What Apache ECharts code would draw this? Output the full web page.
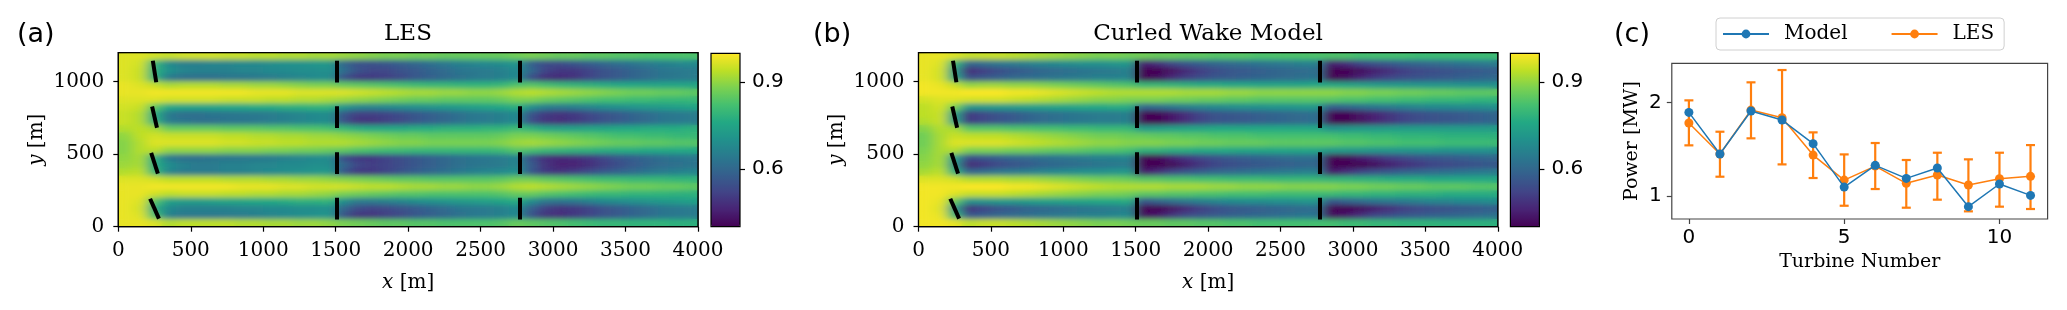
<!DOCTYPE html>
<html><head><meta charset="utf-8">
<script src="https://cdn.jsdelivr.net/npm/echarts@6/dist/echarts.min.js"></script>
<style>
html,body{margin:0;padding:0;background:#fff}
.layer{position:absolute;left:0;top:0;width:2067px;height:310px}
#smooth{filter:url(#soft);clip-path:path('M118.3 52.7 H698 V226.7 H118.3 Z M918.5 52.7 H1497.8 V226.7 H918.5 Z')}
#marks{pointer-events:none}
</style>
</head><body>
<svg width="0" height="0" style="position:absolute"><filter id="soft" x="-2%" y="-10%" width="104%" height="120%"><feGaussianBlur stdDeviation="5.5 2.4"/></filter></svg>
<div id="base" class="layer"></div>
<div id="smooth" class="layer"></div>
<div id="marks" class="layer"></div>
<script>
// ---------- DATA ----------
// heat-map cell centres (m): 40 columns x 24 rows
const xCenters = [50,150,250,350,450,550,650,750,850,950,1050,1150,1250,1350,1450,1550,1650,1750,1850,1950,2050,2150,2250,2350,2450,2550,2650,2750,2850,2950,3050,3150,3250,3350,3450,3550,3650,3750,3850,3950];
const yCenters = [25,75,125,175,225,275,325,375,425,475,525,575,625,675,725,775,825,875,925,975,1025,1075,1125,1175];
const xTicks = [0,500,1000,1500,2000,2500,3000,3500,4000];
const yTicks = [0,500,1000];
const cbarTicks = [0.6,0.9];

// normalised streamwise velocity (a) LES, rows listed top (y=1175) to bottom (y=25)
const lesField = [
[.97,.97,.96,.95,.96,.96,.96,.95,.95,.94,.94,.93,.93,.92,.92,.91,.90,.89,.88,.88,.87,.87,.86,.86,.86,.86,.86,.87,.88,.87,.86,.86,.85,.85,.84,.84,.83,.83,.83,.83],
[.97,.96,.80,.68,.66,.66,.67,.67,.68,.68,.69,.70,.70,.71,.72,.60,.55,.55,.56,.58,.60,.62,.64,.66,.67,.68,.69,.71,.58,.54,.54,.56,.58,.60,.62,.63,.65,.66,.67,.68],
[.97,.95,.78,.70,.67,.66,.66,.66,.67,.67,.68,.68,.69,.69,.70,.62,.55,.53,.53,.55,.57,.59,.61,.63,.64,.65,.66,.68,.60,.52,.50,.50,.52,.55,.57,.59,.61,.63,.64,.65],
[.97,.95,.78,.64,.62,.62,.62,.63,.63,.64,.65,.66,.67,.68,.69,.55,.50,.50,.51,.53,.56,.58,.60,.62,.64,.65,.66,.68,.54,.48,.47,.49,.52,.55,.57,.59,.61,.63,.64,.65],
[.98,.97,.95,.92,.93,.93,.93,.92,.92,.91,.91,.90,.89,.88,.88,.86,.85,.84,.83,.82,.81,.80,.80,.79,.79,.79,.80,.83,.84,.82,.80,.79,.78,.77,.76,.76,.75,.75,.75,.75],
[.98,.98,.99,.99,.99,.99,.99,.99,.99,.98,.98,.98,.97,.97,.97,.97,.96,.95,.94,.93,.92,.92,.91,.91,.90,.90,.91,.93,.94,.93,.92,.91,.90,.89,.88,.87,.87,.86,.86,.85],
[.97,.97,.97,.96,.96,.96,.96,.95,.95,.95,.94,.94,.93,.93,.92,.91,.90,.89,.88,.87,.86,.86,.85,.85,.85,.85,.86,.88,.88,.86,.85,.84,.83,.82,.82,.81,.81,.80,.80,.80],
[.96,.95,.85,.76,.75,.75,.75,.76,.76,.77,.77,.78,.78,.79,.79,.72,.68,.67,.68,.69,.70,.71,.72,.73,.74,.75,.76,.78,.70,.66,.65,.66,.67,.69,.70,.71,.72,.73,.74,.75],
[.95,.93,.77,.64,.62,.62,.63,.63,.64,.64,.65,.66,.67,.68,.69,.56,.51,.51,.52,.54,.56,.58,.60,.62,.64,.65,.66,.68,.55,.50,.49,.50,.53,.55,.57,.59,.61,.63,.64,.65],
[.95,.93,.78,.65,.63,.62,.62,.63,.63,.64,.65,.66,.67,.68,.69,.55,.49,.49,.51,.53,.56,.58,.60,.62,.64,.65,.66,.68,.54,.49,.48,.50,.52,.55,.57,.59,.61,.63,.64,.65],
[.93,.94,.92,.86,.86,.86,.86,.85,.85,.85,.84,.84,.83,.83,.82,.80,.77,.76,.76,.76,.77,.77,.78,.78,.78,.79,.79,.81,.78,.75,.74,.74,.75,.75,.76,.76,.77,.77,.77,.78],
[.90,.94,.96,.95,.95,.95,.95,.94,.94,.93,.93,.92,.92,.91,.91,.90,.89,.88,.87,.86,.86,.85,.85,.85,.85,.85,.86,.88,.88,.87,.86,.85,.84,.83,.82,.82,.81,.81,.80,.80],
[.89,.93,.97,.97,.97,.97,.97,.96,.96,.95,.95,.94,.94,.93,.93,.93,.92,.91,.90,.89,.89,.88,.88,.88,.88,.88,.89,.91,.92,.91,.90,.89,.88,.87,.86,.86,.85,.85,.84,.84],
[.89,.93,.94,.90,.90,.90,.90,.89,.89,.89,.88,.88,.87,.87,.86,.85,.83,.82,.81,.81,.80,.80,.80,.80,.80,.80,.81,.84,.82,.80,.79,.78,.78,.77,.77,.77,.76,.76,.76,.76],
[.90,.92,.78,.64,.62,.62,.63,.63,.64,.64,.65,.66,.67,.68,.69,.54,.50,.50,.52,.54,.56,.58,.60,.62,.63,.64,.65,.67,.54,.48,.47,.48,.50,.53,.56,.58,.60,.62,.63,.64],
[.91,.92,.77,.69,.66,.65,.65,.66,.66,.67,.67,.68,.68,.69,.69,.60,.53,.51,.52,.54,.56,.58,.60,.62,.63,.64,.65,.67,.57,.49,.46,.46,.48,.51,.54,.57,.59,.61,.62,.63],
[.93,.94,.80,.67,.65,.65,.65,.66,.66,.67,.68,.69,.70,.71,.72,.56,.50,.50,.52,.55,.58,.60,.62,.64,.66,.67,.68,.70,.56,.50,.49,.51,.54,.57,.59,.61,.63,.65,.66,.67],
[.97,.97,.96,.94,.94,.94,.94,.93,.93,.93,.92,.92,.91,.91,.90,.89,.88,.87,.86,.85,.85,.84,.84,.84,.84,.84,.85,.87,.87,.85,.84,.83,.82,.81,.81,.80,.80,.80,.79,.79],
[.98,.98,.99,.99,.99,.99,.99,.99,.98,.98,.98,.97,.97,.96,.96,.96,.95,.94,.94,.93,.92,.92,.91,.91,.90,.90,.91,.93,.94,.93,.92,.91,.90,.89,.88,.87,.87,.86,.86,.85],
[.98,.98,.96,.94,.95,.95,.95,.94,.94,.93,.93,.92,.92,.91,.90,.88,.87,.86,.85,.84,.84,.83,.83,.83,.83,.83,.84,.86,.86,.84,.83,.82,.81,.80,.80,.79,.79,.79,.78,.78],
[.98,.97,.84,.74,.73,.73,.74,.75,.75,.76,.76,.77,.78,.78,.79,.70,.65,.65,.66,.67,.69,.70,.71,.72,.73,.74,.75,.77,.69,.64,.63,.64,.66,.68,.69,.70,.71,.72,.73,.74],
[.98,.96,.77,.68,.66,.66,.66,.66,.67,.67,.68,.68,.69,.69,.70,.60,.54,.52,.53,.55,.57,.59,.61,.63,.64,.65,.66,.68,.58,.51,.49,.50,.52,.55,.57,.59,.61,.63,.64,.65],
[.98,.97,.82,.66,.64,.64,.64,.65,.65,.66,.67,.68,.69,.70,.71,.55,.49,.49,.51,.53,.56,.58,.60,.62,.64,.65,.66,.68,.55,.49,.48,.50,.52,.55,.57,.59,.61,.63,.64,.65],
[.98,.98,.97,.93,.94,.94,.94,.94,.93,.93,.92,.92,.91,.91,.90,.88,.87,.86,.85,.85,.84,.84,.83,.83,.83,.83,.84,.86,.85,.84,.83,.82,.81,.80,.80,.79,.79,.79,.78,.78]
];

// normalised streamwise velocity (b) Curled Wake Model, rows top to bottom
const cwmField = [
[.98,.98,.97,.95,.95,.95,.94,.93,.92,.91,.90,.89,.88,.88,.87,.87,.86,.86,.85,.85,.84,.84,.84,.83,.83,.83,.83,.83,.83,.83,.82,.82,.82,.82,.81,.81,.81,.81,.81,.81],
[.98,.97,.80,.60,.62,.64,.65,.66,.67,.68,.69,.70,.70,.71,.72,.45,.48,.53,.56,.58,.60,.61,.62,.63,.64,.65,.66,.66,.45,.48,.52,.55,.57,.59,.60,.61,.62,.63,.64,.65],
[.98,.96,.72,.48,.51,.54,.56,.58,.60,.61,.62,.63,.64,.65,.66,.40,.40,.43,.47,.51,.54,.56,.57,.58,.59,.60,.61,.62,.40,.40,.42,.45,.48,.51,.53,.54,.55,.56,.57,.58],
[.98,.96,.75,.54,.56,.58,.60,.61,.62,.63,.64,.65,.66,.66,.67,.40,.42,.47,.51,.54,.56,.57,.58,.59,.60,.61,.62,.63,.40,.42,.46,.50,.52,.54,.55,.56,.57,.58,.59,.60],
[.99,.98,.95,.90,.91,.91,.90,.90,.89,.88,.87,.86,.85,.84,.83,.80,.80,.79,.78,.77,.77,.76,.76,.75,.75,.75,.75,.76,.76,.75,.74,.73,.72,.72,.71,.71,.71,.70,.70,.70],
[.99,.99,.99,1.0,1.0,1.0,.99,.99,.98,.97,.96,.95,.94,.93,.93,.93,.93,.93,.92,.92,.92,.91,.91,.90,.90,.90,.90,.90,.90,.89,.89,.88,.88,.87,.87,.86,.86,.85,.85,.85],
[.96,.97,.97,.96,.96,.96,.95,.94,.93,.92,.91,.90,.89,.89,.88,.88,.88,.87,.87,.86,.86,.85,.85,.84,.84,.84,.84,.84,.84,.83,.83,.82,.82,.81,.81,.80,.80,.80,.79,.79],
[.94,.96,.88,.72,.72,.73,.73,.74,.74,.75,.75,.76,.76,.77,.77,.60,.62,.64,.66,.67,.68,.69,.70,.70,.71,.71,.72,.72,.58,.60,.62,.64,.65,.66,.67,.68,.68,.69,.69,.70],
[.94,.95,.74,.50,.53,.55,.57,.59,.61,.62,.63,.64,.65,.65,.66,.40,.40,.44,.48,.52,.55,.56,.57,.58,.59,.60,.61,.62,.40,.40,.43,.46,.49,.52,.54,.55,.56,.57,.58,.59],
[.93,.95,.74,.50,.53,.55,.57,.59,.61,.62,.63,.64,.65,.65,.66,.40,.40,.44,.48,.52,.55,.56,.57,.58,.59,.60,.61,.62,.40,.40,.43,.46,.49,.52,.54,.55,.56,.57,.58,.59],
[.89,.93,.92,.84,.84,.84,.83,.83,.82,.82,.81,.81,.80,.80,.80,.72,.73,.74,.75,.75,.76,.76,.76,.76,.76,.76,.76,.76,.70,.71,.72,.72,.73,.73,.73,.73,.73,.73,.73,.73],
[.87,.92,.95,.94,.94,.94,.93,.92,.91,.90,.89,.88,.87,.87,.86,.86,.85,.85,.84,.84,.83,.83,.83,.82,.82,.82,.82,.82,.82,.81,.81,.80,.80,.79,.79,.79,.78,.78,.78,.78],
[.87,.92,.97,.97,.97,.97,.96,.95,.94,.93,.92,.91,.90,.90,.89,.89,.89,.88,.88,.87,.87,.86,.86,.86,.85,.85,.85,.85,.85,.84,.84,.83,.83,.82,.82,.82,.81,.81,.81,.81],
[.88,.92,.93,.88,.88,.88,.87,.87,.86,.85,.85,.84,.83,.83,.82,.78,.78,.77,.77,.76,.76,.76,.75,.75,.75,.75,.75,.75,.72,.72,.72,.71,.71,.71,.71,.71,.70,.70,.70,.70],
[.89,.92,.74,.54,.56,.58,.60,.61,.62,.63,.64,.65,.66,.66,.67,.40,.41,.46,.50,.53,.55,.57,.58,.59,.60,.61,.62,.62,.40,.41,.45,.48,.51,.53,.55,.56,.57,.58,.59,.60],
[.90,.92,.70,.47,.50,.53,.55,.57,.59,.60,.61,.62,.63,.64,.65,.40,.40,.41,.45,.49,.52,.54,.55,.56,.57,.58,.59,.60,.40,.40,.40,.42,.45,.48,.50,.52,.53,.54,.55,.56],
[.92,.94,.78,.60,.62,.64,.65,.66,.67,.68,.69,.70,.70,.71,.72,.44,.48,.53,.56,.58,.60,.61,.62,.63,.64,.65,.66,.66,.44,.48,.52,.55,.57,.59,.60,.61,.62,.63,.64,.65],
[.97,.97,.96,.93,.93,.93,.92,.92,.91,.90,.89,.88,.87,.87,.86,.84,.84,.83,.83,.82,.82,.81,.81,.81,.80,.80,.80,.80,.79,.79,.78,.78,.77,.77,.77,.76,.76,.76,.76,.76],
[.99,.99,.99,1.0,1.0,1.0,.99,.99,.98,.97,.96,.95,.94,.93,.93,.93,.93,.92,.92,.92,.91,.91,.90,.90,.90,.89,.89,.89,.89,.88,.88,.87,.87,.86,.86,.85,.85,.85,.84,.84],
[.99,.99,.97,.95,.95,.95,.94,.93,.92,.91,.90,.89,.88,.88,.87,.85,.85,.84,.84,.83,.83,.82,.82,.82,.81,.81,.81,.81,.81,.80,.80,.79,.79,.78,.78,.78,.77,.77,.77,.77],
[.99,.98,.86,.70,.71,.72,.72,.73,.74,.74,.75,.75,.76,.76,.77,.56,.59,.62,.64,.66,.67,.68,.69,.69,.70,.70,.71,.71,.56,.59,.61,.63,.64,.65,.66,.67,.67,.68,.68,.69],
[.99,.97,.72,.49,.52,.55,.57,.59,.60,.61,.62,.63,.64,.65,.66,.40,.40,.43,.47,.51,.54,.56,.57,.58,.59,.60,.61,.62,.40,.40,.42,.45,.48,.51,.53,.54,.55,.56,.57,.58],
[.99,.98,.80,.56,.58,.60,.61,.62,.63,.64,.65,.66,.66,.67,.68,.42,.44,.49,.53,.55,.57,.58,.59,.60,.61,.62,.63,.63,.42,.44,.48,.52,.54,.56,.57,.58,.59,.60,.61,.62],
[.99,.99,.98,.94,.95,.95,.94,.93,.92,.91,.90,.89,.88,.88,.87,.86,.86,.85,.85,.84,.84,.83,.83,.82,.82,.82,.82,.82,.82,.81,.81,.80,.80,.79,.79,.79,.78,.78,.78,.78]
];

// turbine layout (m) and yaw of the first column (deg), rows bottom to top
const turbineX = [250, 1510, 2770];
const turbineY = [124, 438, 756, 1070];
const yawFirstColumn = [24, 18, 13, 9];
const rotorD = 150;

// panel (c): power per turbine (MW)
const turbineNumber = [0,1,2,3,4,5,6,7,8,9,10,11];
const modelPower = [1.896,1.45,1.911,1.814,1.561,1.096,1.329,1.189,1.30,0.886,1.129,1.007];
const lesPower   = [1.782,1.45,1.921,1.839,1.439,1.171,1.321,1.136,1.225,1.118,1.186,1.211];
const lesLow     = [1.543,1.207,1.618,1.339,1.193,0.896,1.075,0.875,0.961,0.836,0.886,0.861];
const lesHigh    = [2.025,1.689,2.218,2.35,1.682,1.446,1.568,1.386,1.464,1.393,1.464,1.546];
const powerTicks = [1,2];
const turbineTicks = [0,5,10];

// ---------- BUILD ----------
function fieldData(rows){
  const out = [];
  rows.forEach((row, r) => {
    if (row.length !== xCenters.length) throw new Error('row ' + r + ' has ' + row.length);
    const j = rows.length - 1 - r;
    row.forEach((v, i) => out.push([i, j, v]));
  });
  return out;
}
function turbineLines(){
  const out = [];
  turbineX.forEach((x, c) => {
    turbineY.forEach((y, r) => {
      const g = (c === 0 ? yawFirstColumn[r] : 0) * Math.PI / 180;
      const h = rotorD / 2;
      out.push({coords: [[x - h*Math.sin(g), y + h*Math.cos(g)], [x + h*Math.sin(g), y - h*Math.cos(g)]]});
    });
  });
  return out;
}

const SERIF = 'DejaVu Serif', SANS = 'DejaVu Sans';
const VIRIDIS = ['#440154','#482475','#414487','#355f8d','#2a788e','#21918c','#22a884','#44bf70','#7ad151','#bddf26','#fde725'];
const BLUE = '#1f77b4', ORANGE = '#ff7f0e';

const PA = {left:118.3, top:52.7, width:579.7, height:174};
const PB = {left:918.5, top:52.7, width:579.3, height:174};
const CA = {left:711, top:53.3, width:29, height:173.4};
const CB = {left:1510.4, top:53.3, width:29, height:173.4};
const PC = {left:1671.8, top:63.3, width:375.8, height:155.7};

const frame = (r, color) => Object.assign({show:true, z:5, backgroundColor:'transparent', borderColor:color, borderWidth:1.2}, r);
const hidden = (r) => Object.assign({show:false}, r);
const plain = (v) => String(v);
const noLine = {show:false, onZero:false};

const serifLbl = {fontFamily:SERIF, fontSize:20, color:'#000'};
const italicName = (v) => ({
  name:'{i|' + v + '} [m]', nameLocation:'middle',
  nameTextStyle:{fontFamily:SERIF, fontSize:20, color:'#000', rich:{i:{fontFamily:SERIF, fontStyle:'italic', fontSize:20, color:'#000'}}}
});
const catAxis = (gi, data) => ({type:'category', gridIndex:gi, data:data, show:false, boundaryGap:true, axisLine:noLine});
const fieldX = (gi) => Object.assign({
  type:'value', gridIndex:gi, min:0, max:4000,
  axisLine:noLine, splitLine:{show:false},
  axisTick:{show:true, length:5, customValues:xTicks, lineStyle:{color:'#000', width:1.2}},
  axisLabel:{...serifLbl, margin:14, customValues:xTicks, formatter:plain},
  nameGap:46
}, italicName('x'));
const fieldY = (gi) => Object.assign({
  type:'value', gridIndex:gi, min:0, max:1200,
  axisLine:noLine, splitLine:{show:false},
  axisTick:{show:true, length:5, customValues:yTicks, lineStyle:{color:'#000', width:1.2}},
  axisLabel:{...serifLbl, margin:14, customValues:yTicks, formatter:plain},
  nameGap:72
}, italicName('y'));
const cbarY = (gi) => ({
  type:'value', gridIndex:gi, position:'right', min:0.4, max:1.0,
  axisLine:noLine, splitLine:{show:false},
  axisTick:{show:true, length:5, customValues:cbarTicks, lineStyle:{color:'#000', width:1.2}},
  axisLabel:{fontFamily:SANS, fontSize:20, color:'#000', margin:12, customValues:cbarTicks, formatter:(v)=>v.toFixed(1)}
});
const vmap = (si, r, show) => ({
  type:'continuous', show:show, seriesIndex:si, min:0.4, max:1.0, calculable:false, hoverLink:false,
  left:r.left, top:r.top, itemWidth:r.width, itemHeight:r.height, padding:0, showLabel:false,
  inRange:{color:VIRIDIS}
});
const heat = (name, xi, yi, rows) => ({type:'heatmap', name:name, xAxisIndex:xi, yAxisIndex:yi, data:fieldData(rows), itemStyle:{borderWidth:0}, emphasis:{disabled:true}, silent:true});

// ---- base layer: full figure (cells, axes, colour bars, panel c) ----
const baseOption = {
  backgroundColor:'#fff',
  animation:false,
  grid:[hidden(PA), frame(PA,'#000'), Object.assign(frame(CA,'#000'),{z:10}),
        hidden(PB), frame(PB,'#000'), Object.assign(frame(CB,'#000'),{z:10}),
        frame(PC,'#444')],
  xAxis:[
    catAxis(0, xCenters), fieldX(1), {type:'value', gridIndex:2, show:false, min:0, max:1, axisLine:noLine},
    catAxis(3, xCenters), fieldX(4), {type:'value', gridIndex:5, show:false, min:0, max:1, axisLine:noLine},
    {type:'value', gridIndex:6, min:-0.55, max:11.55,
     axisLine:noLine, splitLine:{show:false},
     axisTick:{show:true, length:5, customValues:turbineTicks, lineStyle:{color:'#444', width:1.2}},
     axisLabel:{fontFamily:SANS, fontSize:20, color:'#000', margin:9, customValues:turbineTicks, formatter:plain},
     name:'Turbine Number', nameLocation:'middle', nameGap:30,
     nameTextStyle:{fontFamily:SERIF, fontSize:19, color:'#000'}}
  ],
  yAxis:[
    catAxis(0, yCenters), fieldY(1), cbarY(2),
    catAxis(3, yCenters), fieldY(4), cbarY(5),
    {type:'value', gridIndex:6, min:0.754, max:2.422,
     axisLine:noLine, splitLine:{show:false},
     axisTick:{show:true, length:5, customValues:powerTicks, lineStyle:{color:'#444', width:1.2}},
     axisLabel:{fontFamily:SANS, fontSize:20, color:'#000', margin:10, customValues:powerTicks, formatter:plain},
     name:'Power [MW]', nameLocation:'middle', nameGap:30,
     nameTextStyle:{fontFamily:SERIF, fontSize:19, color:'#000'}}
  ],
  visualMap:[vmap(0, CA, true), vmap(1, CB, true)],
  legend:{
    data:['Model','LES'], left:1716, top:18, padding:[6,10,6,6],
    itemWidth:46, itemHeight:11, itemGap:43,
    backgroundColor:'#fff', borderColor:'#d0d0d0', borderWidth:1, borderRadius:4,
    textStyle:{fontFamily:SERIF, fontSize:20, color:'#000', padding:[0,0,0,10]}
  },
  series:[
    heat('LES field', 0, 0, lesField),
    heat('CWM field', 3, 3, cwmField),
    {type:'custom', name:'LES error', xAxisIndex:6, yAxisIndex:6, z:2,
     encode:{x:0, y:[1,2]},
     data:turbineNumber.map((n,i)=>[n, lesLow[i], lesHigh[i]]),
     renderItem:(params, api)=>{
       const x = api.value(0);
       const lo = api.coord([x, api.value(1)]);
       const hi = api.coord([x, api.value(2)]);
       const cap = 4.5, st = {stroke:ORANGE, lineWidth:2.2};
       return {type:'group', children:[
         {type:'line', shape:{x1:lo[0], y1:lo[1], x2:hi[0], y2:hi[1]}, style:st},
         {type:'line', shape:{x1:lo[0]-cap, y1:lo[1], x2:lo[0]+cap, y2:lo[1]}, style:st},
         {type:'line', shape:{x1:hi[0]-cap, y1:hi[1], x2:hi[0]+cap, y2:hi[1]}, style:st}
       ]};
     }},
    {type:'line', name:'LES', xAxisIndex:6, yAxisIndex:6, z:3,
     data:turbineNumber.map((n,i)=>[n, lesPower[i]]),
     symbol:'circle', symbolSize:9, color:ORANGE,
     lineStyle:{color:ORANGE, width:1.5}, itemStyle:{color:ORANGE}},
    {type:'line', name:'Model', xAxisIndex:6, yAxisIndex:6, z:4,
     data:turbineNumber.map((n,i)=>[n, modelPower[i]]),
     symbol:'circle', symbolSize:9, color:BLUE,
     lineStyle:{color:BLUE, width:1.5}, itemStyle:{color:BLUE}}
  ],
  graphic:[
    {type:'text', x:17, y:35, style:{text:'(a)', font:'27px "DejaVu Sans"', fill:'#000', align:'left', verticalAlign:'middle'}},
    {type:'text', x:408, y:34, style:{text:'LES', font:'23px "DejaVu Serif"', fill:'#000', align:'center', verticalAlign:'middle'}},
    {type:'text', x:813, y:35, style:{text:'(b)', font:'27px "DejaVu Sans"', fill:'#000', align:'left', verticalAlign:'middle'}},
    {type:'text', x:1208, y:34, style:{text:'Curled Wake Model', font:'23px "DejaVu Serif"', fill:'#000', align:'center', verticalAlign:'middle'}},
    {type:'text', x:1614, y:35, style:{text:'(c)', font:'27px "DejaVu Sans"', fill:'#000', align:'left', verticalAlign:'middle'}}
  ]
};

// ---- smoothing layer: the same two fields, softened (like imshow interpolation) ----
const smoothOption = {
  animation:false,
  grid:[hidden(PA), hidden(PB)],
  xAxis:[catAxis(0, xCenters), catAxis(1, xCenters)],
  yAxis:[catAxis(0, yCenters), catAxis(1, yCenters)],
  visualMap:[vmap(0, CA, false), vmap(1, CB, false)],
  series:[heat('LES field', 0, 0, lesField), heat('CWM field', 1, 1, cwmField)]
};

// ---- marks layer: turbine rotors and plot frames on top ----
const valX = (gi) => ({type:'value', gridIndex:gi, show:false, min:0, max:4000, axisLine:noLine});
const valY = (gi) => ({type:'value', gridIndex:gi, show:false, min:0, max:1200, axisLine:noLine});
const rotors = (gi) => ({type:'lines', coordinateSystem:'cartesian2d', xAxisIndex:gi, yAxisIndex:gi, data:turbineLines(), lineStyle:{color:'#000', width:4, opacity:1, cap:'butt'}, silent:true});
const marksOption = {
  animation:false,
  grid:[frame(PA,'#000'), frame(PB,'#000')],
  xAxis:[valX(0), valX(1)],
  yAxis:[valY(0), valY(1)],
  series:[rotors(0), rotors(1)]
};

echarts.init(document.getElementById('base'), null, {renderer:'canvas'}).setOption(baseOption);
echarts.init(document.getElementById('smooth'), null, {renderer:'canvas'}).setOption(smoothOption);
echarts.init(document.getElementById('marks'), null, {renderer:'canvas'}).setOption(marksOption);
</script></body></html>
